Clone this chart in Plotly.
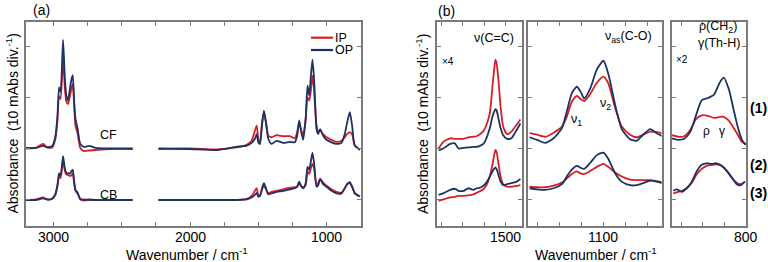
import plotly.graph_objects as go

# ---------------- Panel (a): wavenumber (cm-1) / absorbance (mAbs, relative to own baseline)
wn_a_hi = [3200, 3130, 3075, 3045, 3008, 2985, 2970, 2958, 2947, 2929, 2916, 2905, 2893,
           2874, 2864, 2858, 2847, 2838, 2822, 2803, 2775, 2737, 2690, 2580, 2420]
cf_op_hi = [0.2, 0.2, 0.6, 0.3, 0.6, 2.5, 6.5, 12.1, 11.2, 21.4, 14.0, 10.5, 9.5,
            12.7, 14.0, 14.5, 9.0, 5.9, 3.9, 1.0, 0.4, 0.6, 0.2, 0.1, 0.1]
cf_ip_hi = [0.1, 0.2, 1.0, 0.3, 0.3, 2.0, 5.5, 10.3, 9.8, 17.8, 12.0, 9.3, 8.8,
            11.0, 12.3, 12.7, 8.0, 4.5, 3.0, 0.2, -0.4, -0.3, -0.2, 0.0, 0.0]
cb_op_hi = [0.0, 0.0, 0.3, 0.1, 0.3, 1.2, 3.0, 5.2, 4.8, 8.6, 6.2, 5.3, 5.2,
            5.3, 5.8, 5.9, 3.5, 2.0, 1.4, 0.2, 0.05, 0.1, 0.0, 0.0, 0.0]
cb_ip_hi = [0.0, 0.1, 0.5, 0.1, 0.2, 1.0, 2.7, 4.6, 4.3, 7.8, 5.8, 5.0, 4.9,
            4.7, 5.0, 5.1, 3.0, 1.8, 1.2, 0.1, -0.1, 0.0, 0.0, 0.0, 0.0]

wn_a_lo = [2231, 2000, 1805, 1659, 1586, 1550, 1526, 1513, 1501, 1489, 1474, 1460, 1445,
           1428, 1404, 1367, 1319, 1270, 1234, 1217, 1202, 1187, 1173, 1155, 1141, 1129,
           1117, 1105, 1093, 1075, 1063, 1049, 1027, 1002, 966, 929, 893, 869, 852, 832,
           815, 796, 759]
cf_op_lo = [0.1, 0.0, -0.2, 0.45, 0.65, 1.2, 2.0, 2.9, 1.3, 1.0, 4.6, 7.5, 5.2,
            2.0, 1.0, 1.6, 1.2, 1.4, 1.3, 2.6, 5.6, 3.3, 1.8, 5.9, 12.4, 10.5,
            14.1, 17.5, 13.7, 3.9, 2.9, 3.9, 2.6, 1.8, 1.3, 1.0, 1.2, 2.9, 5.1, 7.2,
            4.6, 0.7, -0.2]
cf_ip_lo = [0.0, 0.1, -0.1, 0.3, 0.8, 1.6, 3.6, 4.6, 2.0, 1.0, 5.2, 7.1, 5.2,
            2.6, 2.3, 2.7, 2.5, 2.5, 2.1, 3.3, 5.2, 3.6, 2.9, 5.6, 10.1, 9.5,
            11.4, 14.4, 11.4, 4.6, 3.4, 3.6, 2.9, 2.3, 1.8, 1.4, 1.6, 2.3, 2.9, 3.3,
            2.9, 0.8, -0.1]
cb_op_lo = [0.0, 0.0, 0.0, 0.0, 0.1, 0.5, 1.0, 1.4, 0.65, 0.8, 2.3, 3.3, 2.3,
            1.1, 1.3, 1.6, 1.8, 2.1, 2.3, 2.6, 3.6, 2.7, 2.3, 3.3, 6.5, 5.9,
            7.5, 9.3, 7.2, 2.6, 2.9, 4.1, 3.1, 2.6, 1.8, 1.3, 1.3, 2.3, 3.1, 3.5,
            2.6, 1.3, 0.7]
cb_ip_lo = [0.0, 0.0, 0.0, 0.0, 0.2, 0.8, 1.8, 2.3, 1.0, 0.8, 2.0, 2.9, 2.1,
            1.4, 1.6, 1.8, 2.1, 2.4, 2.5, 2.6, 3.3, 2.7, 2.5, 2.9, 5.6, 5.1,
            6.2, 7.1, 6.2, 2.9, 3.3, 4.2, 3.4, 2.8, 2.1, 1.6, 1.4, 2.3, 3.0, 3.3,
            2.6, 1.4, 0.7]
CF_OFFSET = 10.0   # mAbs stacking offset
CB_OFFSET = 0.0

# ---------------- Panel (b): displayed (scaled, stacked) values
wn_b1 = [1656, 1645, 1629, 1618, 1610, 1598, 1587, 1575, 1568, 1560, 1552, 1545,
         1537, 1531, 1527, 1524, 1521, 1517, 1512, 1506, 1497, 1487, 1477, 1466]
b1_ip_top = [10.1, 11.4, 12.1, 12.0, 12.0, 12.0, 12.3, 12.4, 12.5, 12.9, 13.5, 14.7,
             17.0, 22.2, 25.5, 27.5, 26.7, 23.5, 18.3, 14.4, 12.9, 13.4, 14.5, 15.8]
b1_op_top = [9.7, 10.1, 11.0, 11.1, 10.1, 10.2, 10.3, 10.4, 10.4, 10.6, 11.0, 12.1,
             14.1, 16.3, 17.3, 17.8, 17.5, 16.0, 14.1, 12.7, 12.0, 12.1, 13.4, 15.0]
b1_ip_bot = [-0.2, 0.1, 0.5, 0.6, 0.8, 0.8, 0.9, 1.1, 1.4, 1.7, 2.1, 2.9,
             4.6, 6.9, 8.8, 9.8, 9.3, 7.2, 4.6, 3.1, 2.6, 2.6, 2.7, 2.9]
b1_op_bot = [1.0, 1.3, 2.0, 2.2, 1.8, 1.8, 2.3, 2.0, 2.3, 2.4, 2.8, 3.4,
             4.6, 5.6, 6.1, 6.4, 6.0, 4.9, 3.6, 2.9, 3.1, 3.3, 3.5, 4.1]

wn_b2 = [1269, 1252, 1233, 1214, 1195, 1184, 1172, 1161, 1152, 1144, 1130, 1115,
         1100, 1089, 1073, 1058, 1039, 1024, 1009, 993, 978, 965]
b2_ip_top = [13.1, 12.8, 12.4, 13.2, 14.4, 16.3, 19.3, 20.4, 19.8, 19.4, 20.8, 23.0,
             24.2, 22.9, 18.0, 14.4, 12.8, 12.3, 12.8, 13.4, 13.3, 13.1]
b2_op_top = [12.3, 11.8, 11.2, 12.1, 14.1, 17.3, 21.0, 22.2, 21.2, 19.9, 21.9, 25.6,
             27.3, 24.8, 18.6, 13.9, 11.9, 11.6, 12.8, 13.9, 13.1, 12.5]
b2_ip_bot = [2.6, 2.5, 2.5, 2.8, 3.4, 4.2, 5.1, 5.6, 5.2, 5.1, 5.7, 6.5,
             7.1, 6.5, 5.4, 4.6, 4.0, 3.9, 3.9, 3.9, 3.7, 3.5]
b2_op_bot = [2.3, 2.1, 2.0, 2.3, 3.1, 4.6, 6.0, 6.7, 6.3, 6.1, 7.3, 8.8,
             9.3, 8.1, 5.2, 3.6, 2.9, 2.9, 3.3, 3.8, 3.6, 3.3]

wn_b3_top = [971, 957, 943, 929, 915, 902, 888, 874, 860, 851, 839, 828, 818, 809, 800]
b3_ip_top = [12.7, 12.4, 12.5, 13.7, 15.9, 16.6, 16.5, 16.1, 16.3, 16.3, 15.5, 14.1, 12.7, 11.4, 11.0]
b3_op_top = [12.1, 11.8, 12.0, 13.3, 16.7, 19.6, 20.0, 20.6, 23.1, 24.0, 21.6, 17.6, 14.1, 11.8, 10.8]
wn_b3_bot = [968, 960, 948, 937, 925, 914, 902, 891, 879, 868, 856, 845, 833, 821, 812, 802]
b3_ip_bot = [1.3, 1.5, 1.8, 2.3, 3.4, 5.0, 6.1, 6.7, 6.9, 7.0, 6.7, 5.8, 4.4, 3.4, 3.1, 3.6]
b3_op_bot = [1.8, 2.1, 1.6, 2.3, 3.6, 5.6, 6.9, 7.2, 7.1, 7.2, 6.7, 5.8, 4.5, 3.1, 2.9, 3.6]

x_tick_a = [3000, 2000, 1000]
x_tick_b1 = [1500]
x_tick_b2 = [1100]
x_tick_b3 = [800]
series_names = ["IP", "OP"]

# ---------------- styling
W, H = 768, 262
RED = "#d61e24"
BLUE = "#1b3264"
GRAY = "#7a7a7a"
FONT = "Liberation Sans, Arial, sans-serif"
LW = 1.8
YR = [-5.1, 34.9]


def px(x):
    return x / W


def py(y):
    return 1 - y / H


fig = go.Figure()


def add(x, y, color, xa, ya):
    fig.add_trace(go.Scatter(x=x, y=y, mode="lines", connectgaps=False,
                             line=dict(color=color, width=LW, shape="spline", smoothing=0.6),
                             xaxis=xa, yaxis=ya, showlegend=False, hoverinfo="skip"))


def join(a, b):
    return list(a) + [None] + list(b)


wn_a = join(wn_a_hi, wn_a_lo)
for off, ip_hi, ip_lo, op_hi, op_lo in [(CF_OFFSET, cf_ip_hi, cf_ip_lo, cf_op_hi, cf_op_lo),
                                         (CB_OFFSET, cb_ip_hi, cb_ip_lo, cb_op_hi, cb_op_lo)]:
    ip = [None if v is None else v + off for v in join(ip_hi, ip_lo)]
    op = [None if v is None else v + off for v in join(op_hi, op_lo)]
    add(wn_a, ip, RED, "x", "y")
    add(wn_a, op, BLUE, "x", "y")

for xa, ya, wn_t, ipt, opt, wn_bt, ipb, opb in [
        ("x2", "y2", wn_b1, b1_ip_top, b1_op_top, wn_b1, b1_ip_bot, b1_op_bot),
        ("x3", "y3", wn_b2, b2_ip_top, b2_op_top, wn_b2, b2_ip_bot, b2_op_bot),
        ("x4", "y4", wn_b3_top, b3_ip_top, b3_op_top, wn_b3_bot, b3_ip_bot, b3_op_bot)]:
    add(wn_t, ipt, RED, xa, ya)
    add(wn_t, opt, BLUE, xa, ya)
    add(wn_bt, ipb, RED, xa, ya)
    add(wn_bt, opb, BLUE, xa, ya)

base_ax = dict(showline=True, linecolor=GRAY, linewidth=1.5, mirror="ticks",
               ticks="inside", ticklen=4, tickwidth=1.2, tickcolor=GRAY,
               showgrid=False, zeroline=False, showticklabels=False)

Y0, Y1 = py(226), py(22)


def xax(d0, d1, rng, tv, minor_vals, anchor):
    return dict(base_ax, domain=[px(d0), px(d1)], range=rng, tickvals=tv, anchor=anchor,
                minor=dict(tickvals=minor_vals, ticks="inside", ticklen=4,
                           tickwidth=1.2, tickcolor=GRAY))


def yax(anchor):
    return dict(base_ax, domain=[Y0, Y1], range=YR, tickvals=[0, 10, 20, 30], anchor=anchor)


fig.update_layout(
    xaxis=xax(26, 361, [3200, 750], x_tick_a,
              [2750, 2500, 2250, 1750, 1500, 1250], "y"),
    yaxis=yax("x"),
    xaxis2=xax(437.3, 521.7, [1659, 1463], x_tick_b1, [1650, 1600, 1550], "y2"),
    yaxis2=yax("x2"),
    xaxis3=xax(528.3, 661.5, [1272, 967], x_tick_b2, [1250, 1200, 1150, 1050, 1000], "y3"),
    yaxis3=yax("x3"),
    xaxis4=xax(672, 746, [971, 799.6], x_tick_b3, [950, 900, 850], "y4"),
    yaxis4=yax("x4"),
    width=W, height=H, margin=dict(l=0, r=0, t=0, b=0),
    plot_bgcolor="white", paper_bgcolor="white", showlegend=False,
    font=dict(family=FONT, color="black"),
)

ann = []


def txt(x, y, s, size=13, xanchor="center", angle=0, xref="paper"):
    ann.append(dict(x=px(x) if xref == "paper" else x, y=py(y), xref=xref, yref="paper",
                    text=s, showarrow=False, borderpad=0,
                    xanchor=xanchor, yanchor="middle", textangle=angle,
                    font=dict(family=FONT, size=size, color="black")))


# tick labels on the wavenumber axes
for xr, vals in [("x", x_tick_a), ("x2", x_tick_b1), ("x3", x_tick_b2), ("x4", x_tick_b3)]:
    for v in vals:
        txt(v, 237, str(v), 14, xref=xr)

ylab = "Absorbance  (10 mAbs div.<sup>-1</sup>)"
txt(41, 10, "(a)", 14)
txt(446, 11, "(b)", 14)
txt(12.5, 124, ylab, 14, angle=-90)
txt(422, 124, ylab, 14, angle=-90)
txt(187, 254, "Wavenumber / cm<sup>-1</sup>", 14)
txt(596, 254, "Wavenumber / cm<sup>-1</sup>", 14)
txt(108, 135, "CF", 12.5)
txt(108, 195, "CB", 12.5)
txt(494, 38, "ν(C=C)", 12.5)
txt(448, 61, "×4", 10)
txt(628, 37, "ν<sub>as</sub>(C-O)", 12.5)
txt(682, 60, "×2", 10)
txt(718, 27, "ρ(CH<sub>2</sub>)", 12.5)
txt(719, 43, "γ(Th-H)", 12.5)
txt(576, 120, "ν<sub>1</sub>", 12.5)
txt(605, 104, "ν<sub>2</sub>", 12.5)
txt(706, 131, "ρ", 12)
txt(722, 131, "γ", 12)
txt(758, 108, "<b>(1)</b>", 14)
txt(758, 165, "<b>(2)</b>", 14)
txt(758, 193, "<b>(3)</b>", 14)

# legend (IP / OP)
shapes = []
for i, (name, col) in enumerate(zip(series_names, [RED, BLUE])):
    yy = 37.7 + 12.3 * i
    shapes.append(dict(type="line", xref="paper", yref="paper", x0=px(311), x1=px(333),
                       y0=py(yy), y1=py(yy), line=dict(color=col, width=2.2)))
    txt(334, yy, name, 12.5, xanchor="left")

fig.update_layout(annotations=ann, shapes=shapes)
fig.write_html("out.html", config={"displayModeBar": False},
               post_script="document.body.style.margin='0';document.body.style.padding='0';")
